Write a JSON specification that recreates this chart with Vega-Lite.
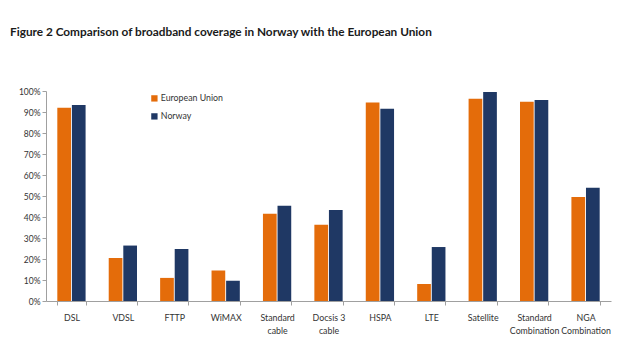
{
  "$schema": "https://vega.github.io/schema/vega-lite/v6.json",
  "autosize": {"type": "none"},
  "width": 565,
  "height": 210,
  "padding": {"left": 46, "top": 91, "right": 29, "bottom": 59},
  "background": "white",
  "title": {
    "text": "Figure 2 Comparison  of broadband  coverage  in Norway with the European Union",
    "anchor": "start",
    "frame": "group",
    "dx": -36,
    "offset": 48,
    "font": "Lato",
    "fontSize": 11.8,
    "fontWeight": "bold",
    "color": "#1a1a1a"
  },
  "data": {
    "values": [
      {"tech": "DSL", "region": "European Union", "coverage": 92},
      {"tech": "DSL", "region": "Norway", "coverage": 93.3},
      {"tech": "VDSL", "region": "European Union", "coverage": 20.5},
      {"tech": "VDSL", "region": "Norway", "coverage": 26.4},
      {"tech": "FTTP", "region": "European Union", "coverage": 11},
      {"tech": "FTTP", "region": "Norway", "coverage": 24.8},
      {"tech": "WiMAX", "region": "European Union", "coverage": 14.5},
      {"tech": "WiMAX", "region": "Norway", "coverage": 9.7},
      {"tech": "Standard|cable", "region": "European Union", "coverage": 41.5},
      {"tech": "Standard|cable", "region": "Norway", "coverage": 45.3},
      {"tech": "Docsis 3|cable", "region": "European Union", "coverage": 36.3},
      {"tech": "Docsis 3|cable", "region": "Norway", "coverage": 43.3},
      {"tech": "HSPA", "region": "European Union", "coverage": 94.5},
      {"tech": "HSPA", "region": "Norway", "coverage": 91.6},
      {"tech": "LTE", "region": "European Union", "coverage": 8.1},
      {"tech": "LTE", "region": "Norway", "coverage": 25.7},
      {"tech": "Satellite", "region": "European Union", "coverage": 96.3},
      {"tech": "Satellite", "region": "Norway", "coverage": 99.5},
      {"tech": "Standard|Combination", "region": "European Union", "coverage": 94.9},
      {"tech": "Standard|Combination", "region": "Norway", "coverage": 95.7},
      {"tech": "NGA|Combination", "region": "European Union", "coverage": 49.5},
      {"tech": "NGA|Combination", "region": "Norway", "coverage": 53.9}
    ]
  },
  "mark": {"type": "bar"},
  "encoding": {
    "x": {
      "field": "tech",
      "type": "nominal",
      "sort": null,
      "scale": {"paddingInner": 0.45, "paddingOuter": 0.22},
      "axis": {
        "title": null,
        "labelAngle": 0,
        "labelExpr": "split(datum.label, '|')",
        "tickBand": "extent",
        "domainColor": "#a0a0a0",
        "tickColor": "#a0a0a0",
        "tickSize": 4,
        "labelFont": "Lato",
        "labelFontSize": 8.8,
        "labelColor": "#333333",
        "labelPadding": 8,
        "labelLineHeight": 13
      }
    },
    "xOffset": {
      "field": "region",
      "type": "nominal",
      "sort": ["European Union", "Norway"],
      "scale": {"paddingInner": 0.06}
    },
    "y": {
      "field": "coverage",
      "type": "quantitative",
      "scale": {"domain": [0, 100], "nice": false},
      "axis": {
        "title": null,
        "values": [0, 10, 20, 30, 40, 50, 60, 70, 80, 90, 100],
        "labelExpr": "datum.value + '%'",
        "grid": false,
        "domainColor": "#a0a0a0",
        "tickColor": "#a0a0a0",
        "tickSize": 4,
        "labelFont": "Lato",
        "labelFontSize": 8.5,
        "labelColor": "#333333",
        "labelPadding": 2
      }
    },
    "color": {
      "field": "region",
      "type": "nominal",
      "sort": ["European Union", "Norway"],
      "scale": {"domain": ["European Union", "Norway"], "range": ["#E46C0A", "#1F3864"]},
      "legend": {
        "title": null,
        "orient": "none",
        "legendX": 104,
        "legendY": 3,
        "symbolType": "square",
        "symbolSize": 40,
        "symbolStrokeWidth": 0,
        "labelFont": "Lato",
        "labelFontSize": 8.8,
        "labelColor": "#333333",
        "rowPadding": 8,
        "labelOffset": 2
      }
    }
  },
  "config": {"view": {"stroke": null}}
}
